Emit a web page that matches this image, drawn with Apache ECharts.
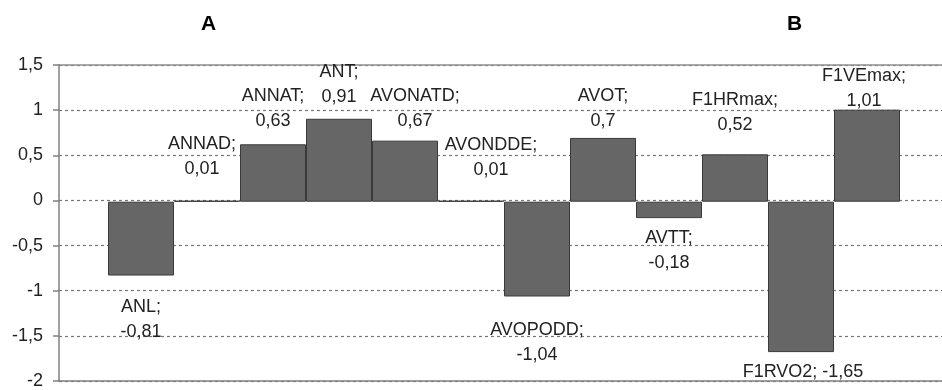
<!DOCTYPE html>
<html>
<head>
<meta charset="utf-8">
<script src="https://cdn.jsdelivr.net/npm/echarts@6/dist/echarts.min.js"></script>
<style>html,body{margin:0;padding:0;background:#fff}#c{width:942px;height:390px}</style>
</head>
<body>
<div id="c"></div>
<script>
// ---- data ----
const categories = ['ANL','ANNAD','ANNAT','ANT','AVONATD','AVONDDE','AVOPODD','AVOT','AVTT','F1HRmax','F1RVO2','F1VEmax'];
const values = [-0.81, 0.01, 0.63, 0.91, 0.67, 0.01, -1.04, 0.7, -0.18, 0.52, -1.65, 1.01];
const groupTitles = ['A', 'B'];
const yTicks = { min: -2, max: 1.5, interval: 0.5 };

// ---- label styling (manual placements, as in the original) ----
const labelDx = [0, -5, 0, 0, 10, 20, 0, 0, 0, 0, 2, -3];
const labelDist = [19, 19, 11, 9, 7, 18, 21, 4, 7, 17, 7, -4];
const labelSingleLine = [false,false,false,false,false,false,false,false,false,false,true,false];

const FONT = 'Liberation Sans, Arial, sans-serif';
const fmt = v => String(v).replace('.', ',');

const chart = echarts.init(document.getElementById('c'), null, {renderer: 'canvas'});

const barData = values.map((v, i) => ({
  value: v,
  label: {
    position: v >= 0 ? 'top' : 'bottom',
    distance: labelDist[i],
    offset: [labelDx[i], 0],
    formatter: categories[i] + ';' + (labelSingleLine[i] ? ' ' : '\n') + fmt(v)
  }
}));

chart.setOption({
  animation: false,
  backgroundColor: '#fff',
  title: [
    { text: groupTitles[0], left: 201, top: 14, padding: 0,
      textStyle: { fontSize: 21, fontWeight: 'bold', fontFamily: FONT, color: '#000' } },
    { text: groupTitles[1], left: 787, top: 14, padding: 0,
      textStyle: { fontSize: 21, fontWeight: 'bold', fontFamily: FONT, color: '#000' } }
  ],
  grid: [
    { left: 59, right: 0, top: 65, bottom: 6 },
    { left: 108, right: 42, top: 65, bottom: 6 }
  ],
  xAxis: [
    { gridIndex: 0, type: 'value', min: 0, max: 1, position: 'bottom',
      axisLine: { show: true, onZero: false, lineStyle: { color: '#808080', width: 1.5 } },
      axisTick: { show: false }, axisLabel: { show: false }, splitLine: { show: false } },
    { gridIndex: 0, type: 'value', min: 0, max: 1, position: 'top',
      axisLine: { show: true, onZero: false, lineStyle: { color: '#909090', width: 1.5 } },
      axisTick: { show: false }, axisLabel: { show: false }, splitLine: { show: false } },
    { gridIndex: 1, type: 'category', data: categories,
      axisLine: { show: false }, axisTick: { show: false }, axisLabel: { show: false },
      splitLine: { show: false } }
  ],
  yAxis: [
    { gridIndex: 0, type: 'value', min: yTicks.min, max: yTicks.max, interval: yTicks.interval,
      axisLine: { show: true, lineStyle: { color: '#808080', width: 1.5 } },
      axisTick: { show: true, length: 6, lineStyle: { color: '#808080', width: 1.5 } },
      axisLabel: { margin: 16, fontSize: 18, fontFamily: FONT, color: '#222',
        formatter: v => fmt(v) },
      splitLine: { show: true, lineStyle: { color: '#777', width: 1.2, type: [3, 3] } } },
    { gridIndex: 1, type: 'value', min: yTicks.min, max: yTicks.max, interval: yTicks.interval,
      show: false, splitLine: { show: false } }
  ],
  series: [{
    type: 'bar',
    xAxisIndex: 2, yAxisIndex: 1,
    data: barData,
    barWidth: '100%',
    barGap: '0%',
    itemStyle: { color: '#666666', borderColor: '#3a3a3a', borderWidth: 1 },
    label: { show: true, fontSize: 18, lineHeight: 25, fontFamily: FONT, color: '#222', align: 'center' }
  }]
});
</script>
</body>
</html>
